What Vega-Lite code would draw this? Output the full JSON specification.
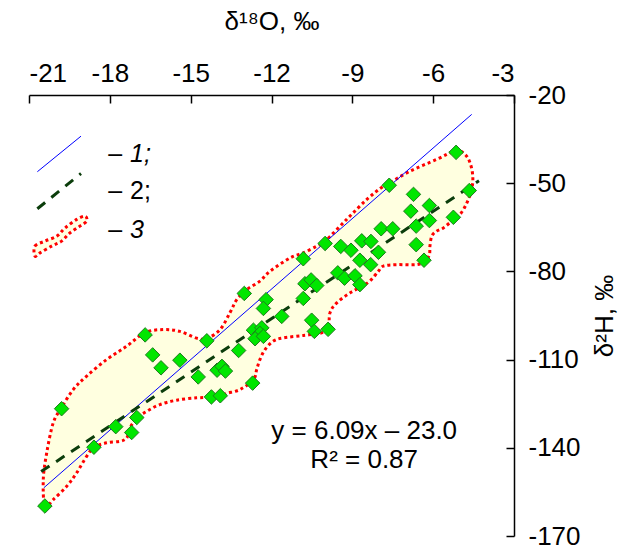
{
  "$schema": "https://vega.github.io/schema/vega-lite/v6.json",
  "width": 485,
  "height": 441,
  "autosize": {"type": "none"},
  "padding": {"left": 29, "top": 95, "right": 108, "bottom": 11},
  "background": "white",
  "config": {
    "view": {"stroke": null},
    "font": "Liberation Sans",
    "axis": {
      "grid": false,
      "domainColor": "black",
      "domainWidth": 1.5,
      "tickColor": "black",
      "tickWidth": 1.5,
      "tickSize": -8,
      "labelFont": "Liberation Sans",
      "labelFontSize": 26,
      "labelColor": "black",
      "titleFont": "Liberation Sans",
      "titleFontSize": 26,
      "titleFontWeight": "normal",
      "titleColor": "black"
    }
  },
  "encoding": {
    "x": {
      "field": "x", "type": "quantitative",
      "scale": {"domain": [-21, -3], "nice": false, "zero": false},
      "axis": {
        "orient": "top",
        "values": [-21, -18, -15, -12, -9, -6, -3],
        "labelExpr": "'-' + abs(datum.value)",
        "labelPadding": 17,
        "title": "δ¹⁸O, ‰",
        "titlePadding": 26
      }
    },
    "y": {
      "field": "y", "type": "quantitative",
      "scale": {"domain": [-170, -20], "nice": false, "zero": false},
      "axis": {
        "orient": "right",
        "values": [-20, -50, -80, -110, -140, -170],
        "labelExpr": "'-' + abs(datum.value)",
        "labelPadding": 22,
        "title": "δ²H, ‰",
        "titleAngle": 270,
        "titlePadding": 37
      }
    }
  },
  "layer": [
    {
      "data": {"values": [
        {"g":"env","i":1,"x":-20.41,"y":-160.0},{"g":"env","i":2,"x":-20.47,"y":-150.8},{"g":"env","i":3,"x":-20.34,"y":-141.6},{"g":"env","i":4,"x":-20.10,"y":-131.5},{"g":"env","i":5,"x":-19.79,"y":-126.3},{"g":"env","i":6,"x":-19.36,"y":-120.2},{"g":"env","i":7,"x":-18.86,"y":-115.6},{"g":"env","i":8,"x":-18.12,"y":-110.0},{"g":"env","i":9,"x":-17.37,"y":-105.4},{"g":"env","i":10,"x":-16.69,"y":-100.8},
        {"g":"env","i":11,"x":-16.01,"y":-99.8},{"g":"env","i":12,"x":-15.40,"y":-100.4},{"g":"env","i":13,"x":-14.78,"y":-102.7},{"g":"env","i":14,"x":-14.40,"y":-102.8},{"g":"env","i":15,"x":-13.91,"y":-99.8},{"g":"env","i":16,"x":-13.54,"y":-94.0},{"g":"env","i":17,"x":-13.29,"y":-89.6},{"g":"env","i":18,"x":-12.92,"y":-86.2},{"g":"env","i":19,"x":-12.43,"y":-83.3},{"g":"env","i":20,"x":-12.05,"y":-79.9},
        {"g":"env","i":21,"x":-11.31,"y":-75.4},{"g":"env","i":22,"x":-10.82,"y":-73.7},{"g":"env","i":23,"x":-10.32,"y":-71.4},{"g":"env","i":24,"x":-10.01,"y":-69.7},{"g":"env","i":25,"x":-9.21,"y":-62.3},{"g":"env","i":26,"x":-8.46,"y":-55.5},{"g":"env","i":27,"x":-7.85,"y":-51.0},{"g":"env","i":28,"x":-7.60,"y":-49.8},{"g":"env","i":29,"x":-6.86,"y":-45.9},{"g":"env","i":30,"x":-5.87,"y":-41.9},
        {"g":"env","i":31,"x":-5.15,"y":-38.9},{"g":"env","i":32,"x":-4.82,"y":-40.2},{"g":"env","i":33,"x":-4.63,"y":-43.1},{"g":"env","i":34,"x":-4.53,"y":-47.6},{"g":"env","i":35,"x":-4.57,"y":-52.1},{"g":"env","i":36,"x":-4.75,"y":-56.7},{"g":"env","i":37,"x":-5.00,"y":-60.6},{"g":"env","i":38,"x":-5.31,"y":-62.9},{"g":"env","i":39,"x":-5.62,"y":-65.2},{"g":"env","i":40,"x":-5.87,"y":-66.3},
        {"g":"env","i":41,"x":-6.05,"y":-68.0},{"g":"env","i":42,"x":-6.12,"y":-71.4},{"g":"env","i":43,"x":-6.14,"y":-74.3},{"g":"env","i":44,"x":-6.30,"y":-76.5},{"g":"env","i":45,"x":-6.61,"y":-77.7},{"g":"env","i":46,"x":-7.35,"y":-77.7},{"g":"env","i":47,"x":-7.85,"y":-78.2},{"g":"env","i":48,"x":-8.03,"y":-79.9},{"g":"env","i":49,"x":-8.42,"y":-83.8},{"g":"env","i":50,"x":-9.08,"y":-87.3},
        {"g":"env","i":51,"x":-9.58,"y":-90.7},{"g":"env","i":52,"x":-9.83,"y":-94.1},{"g":"env","i":53,"x":-9.89,"y":-99.2},{"g":"env","i":54,"x":-10.14,"y":-100.9},{"g":"env","i":55,"x":-10.82,"y":-101.8},{"g":"env","i":56,"x":-11.56,"y":-102.6},{"g":"env","i":57,"x":-11.93,"y":-103.7},{"g":"env","i":58,"x":-12.24,"y":-106.6},{"g":"env","i":59,"x":-12.43,"y":-110.0},{"g":"env","i":60,"x":-12.55,"y":-113.4},
        {"g":"env","i":61,"x":-12.67,"y":-116.8},{"g":"env","i":62,"x":-13.17,"y":-120.2},{"g":"env","i":63,"x":-13.66,"y":-121.5},{"g":"env","i":64,"x":-13.91,"y":-122.6},{"g":"env","i":65,"x":-14.22,"y":-122.9},{"g":"env","i":66,"x":-14.78,"y":-123.0},{"g":"env","i":67,"x":-15.52,"y":-123.8},{"g":"env","i":68,"x":-16.14,"y":-125.3},{"g":"env","i":69,"x":-16.63,"y":-127.6},{"g":"env","i":70,"x":-17.00,"y":-130.0},
        {"g":"env","i":71,"x":-17.25,"y":-133.2},{"g":"env","i":72,"x":-17.37,"y":-136.6},{"g":"env","i":73,"x":-17.62,"y":-137.8},{"g":"env","i":74,"x":-18.12,"y":-138.3},{"g":"env","i":75,"x":-18.59,"y":-139.9},{"g":"env","i":76,"x":-18.86,"y":-142.9},{"g":"env","i":77,"x":-19.23,"y":-148.5},{"g":"env","i":78,"x":-19.60,"y":-153.1},{"g":"env","i":79,"x":-20.10,"y":-157.6},
        {"g":"leg","i":1,"x":-20.78,"y":-74.8},{"g":"leg","i":2,"x":-20.78,"y":-71.4},{"g":"leg","i":3,"x":-20.41,"y":-69.7},{"g":"leg","i":4,"x":-19.97,"y":-68.0},{"g":"leg","i":5,"x":-19.66,"y":-65.2},{"g":"leg","i":6,"x":-19.23,"y":-62.3},{"g":"leg","i":7,"x":-18.92,"y":-61.2},{"g":"leg","i":8,"x":-18.86,"y":-62.9},{"g":"leg","i":9,"x":-19.11,"y":-64.6},{"g":"leg","i":10,"x":-19.48,"y":-66.9},{"g":"leg","i":11,"x":-19.79,"y":-69.7},{"g":"leg","i":12,"x":-20.16,"y":-71.4},{"g":"leg","i":13,"x":-20.59,"y":-73.7}
      ]},
      "mark": {"type": "line", "interpolate": "cardinal-closed", "fill": "#FFFFE0", "stroke": "#FF0000", "strokeWidth": 3, "strokeDash": [3, 3]},
      "encoding": {"detail": {"field": "g"}, "order": {"field": "i", "type": "quantitative"}}
    },
    {
      "data": {"values": [
        {"s": "gmwl", "x": -20.45, "y": -153.6}, {"s": "gmwl", "x": -4.57, "y": -26.6},
        {"s": "leg1", "x": -20.69, "y": -46.1}, {"s": "leg1", "x": -19.07, "y": -34.0}
      ]},
      "mark": {"type": "line", "stroke": "#0000FF", "strokeWidth": 1},
      "encoding": {"detail": {"field": "s"}}
    },
    {
      "data": {"values": [
        {"s": "reg", "x": -20.55, "y": -148.1}, {"s": "reg", "x": -4.3, "y": -49.2},
        {"s": "leg2", "x": -20.69, "y": -58.7}, {"s": "leg2", "x": -19.07, "y": -46.7}
      ]},
      "mark": {"type": "line", "stroke": "#0B3D0B", "strokeWidth": 3, "strokeDash": [10, 8]},
      "encoding": {"detail": {"field": "s"}}
    },
    {
      "data": {"values": [
        {"x":-20.41,"y":-159.8},{"x":-19.79,"y":-126.7},{"x":-18.59,"y":-139.8},{"x":-17.78,"y":-132.8},{"x":-17.19,"y":-134.8},{"x":-17.00,"y":-129.7},{"x":-16.69,"y":-101.6},{"x":-16.41,"y":-108.4},{"x":-16.10,"y":-112.8},{"x":-15.40,"y":-110.2},
        {"x":-14.72,"y":-115.9},{"x":-14.40,"y":-103.6},{"x":-14.23,"y":-122.7},{"x":-13.90,"y":-122.3},{"x":-14.02,"y":-113.6},{"x":-13.84,"y":-112.3},{"x":-13.71,"y":-113.9},{"x":-13.22,"y":-106.9},{"x":-13.01,"y":-87.5},{"x":-12.70,"y":-118.0},
        {"x":-12.67,"y":-100.0},{"x":-12.36,"y":-99.2},{"x":-12.43,"y":-101.1},{"x":-12.61,"y":-102.9},{"x":-12.30,"y":-102.1},{"x":-12.20,"y":-89.6},{"x":-12.30,"y":-92.6},{"x":-11.62,"y":-95.3},{"x":-10.82,"y":-75.7},{"x":-10.82,"y":-89.2},
        {"x":-10.76,"y":-84.2},{"x":-10.53,"y":-82.9},{"x":-10.32,"y":-84.8},{"x":-10.51,"y":-96.6},{"x":-10.41,"y":-100.4},{"x":-9.90,"y":-99.7},{"x":-10.01,"y":-70.5},{"x":-9.54,"y":-80.5},{"x":-9.29,"y":-82.3},{"x":-8.90,"y":-81.5},
        {"x":-8.72,"y":-84.5},{"x":-9.43,"y":-71.5},{"x":-9.05,"y":-72.8},{"x":-8.65,"y":-69.6},{"x":-8.31,"y":-69.8},{"x":-8.72,"y":-76.2},{"x":-8.32,"y":-77.7},{"x":-8.03,"y":-73.5},{"x":-7.93,"y":-65.5},{"x":-7.50,"y":-65.5},
        {"x":-7.63,"y":-50.7},{"x":-6.73,"y":-53.8},{"x":-6.83,"y":-59.5},{"x":-6.63,"y":-64.6},{"x":-6.63,"y":-70.9},{"x":-6.34,"y":-76.2},{"x":-6.14,"y":-57.6},{"x":-6.14,"y":-62.7},{"x":-5.25,"y":-61.6},{"x":-5.15,"y":-39.5},
        {"x":-4.66,"y":-52.5}
      ]},
      "mark": {"type": "point", "shape": "diamond", "filled": true, "size": 210, "fill": "#00E600", "stroke": "#1F7A1F", "strokeWidth": 1, "opacity": 1}
    },
    {
      "data": {"values": [
        {"x": -18.06, "y": -40.1, "t": "–"},
        {"x": -18.06, "y": -52.8, "t": "–"},
        {"x": -18.06, "y": -65.9, "t": "–"}
      ]},
      "mark": {"type": "text", "align": "left", "baseline": "middle", "fontSize": 25, "color": "black"},
      "encoding": {"text": {"field": "t"}}
    },
    {
      "data": {"values": [
        {"x": -17.25, "y": -40.1, "t": "1;"},
        {"x": -17.25, "y": -65.9, "t": "3"}
      ]},
      "mark": {"type": "text", "align": "left", "baseline": "middle", "fontSize": 25, "fontStyle": "italic", "color": "black"},
      "encoding": {"text": {"field": "t"}}
    },
    {
      "data": {"values": [
        {"x": -17.25, "y": -52.8, "t": "2;"}
      ]},
      "mark": {"type": "text", "align": "left", "baseline": "middle", "fontSize": 25, "color": "black"},
      "encoding": {"text": {"field": "t"}}
    },
    {
      "data": {"values": [
        {"x": -8.56, "y": -134.4, "t": "y = 6.09x – 23.0"},
        {"x": -8.56, "y": -144.0, "t": "R² = 0.87"}
      ]},
      "mark": {"type": "text", "align": "center", "baseline": "middle", "fontSize": 26, "color": "black"},
      "encoding": {"text": {"field": "t"}}
    }
  ]
}
